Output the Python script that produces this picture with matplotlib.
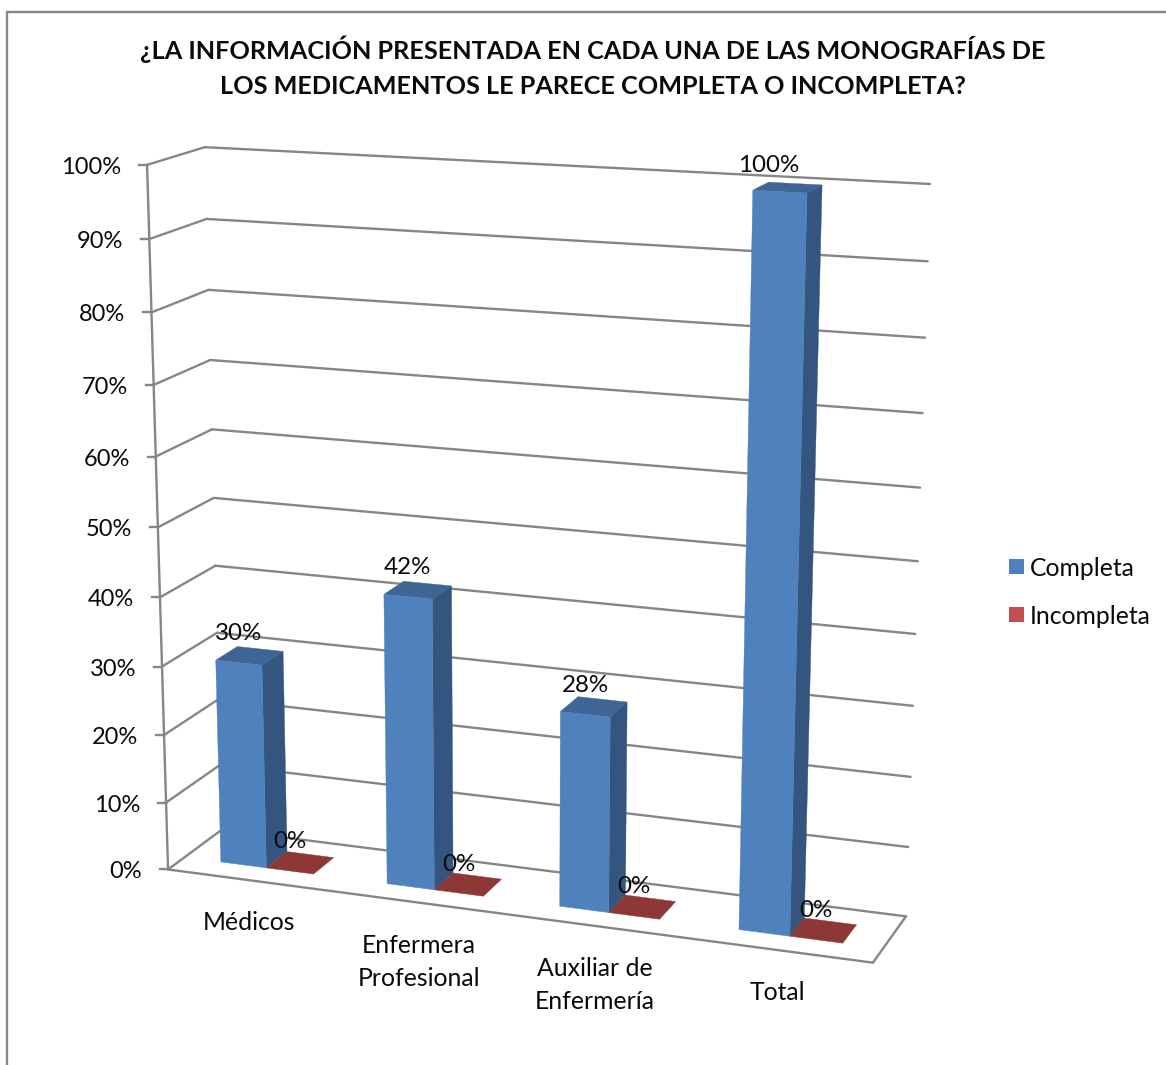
import numpy as np
import matplotlib
matplotlib.use("Agg")
import matplotlib.pyplot as plt
from matplotlib.patches import Polygon, Rectangle

# ---- data ----
categories = ["Médicos", "Enfermera\nProfesional", "Auxiliar de\nEnfermería", "Total"]
completa = [30, 42, 28, 100]
incompleta = [0, 0, 0, 0]
series_names = ["Completa", "Incompleta"]
y_ticks = [0, 10, 20, 30, 40, 50, 60, 70, 80, 90, 100]
title_lines = ["¿LA INFORMACIÓN PRESENTADA EN CADA UNA DE LAS MONOGRAFÍAS DE",
               "LOS MEDICAMENTOS LE PARECE COMPLETA O INCOMPLETA?"]

# ---- styles ----
W, H = 1166, 1065
GRID = "#868686"
LW = 1.7
BLUE, BLUE_SIDE, BLUE_TOP = "#4F81BD", "#34557F", "#3E6594"
RED, RED_TOP = "#C0504D", "#8E3835"
FONT = "Lato"
INK = "#0a0a0a"

# Box calibration: (category pos, depth, value) -> pixel position of the chart's corners
calib = [((0, 0, 0), (169, 869)), ((4, 0, 0), (873, 963)), ((4, 1, 0), (906, 916)),
         ((0, 1, 0), (221, 830)), ((0, 0, 100), (146, 165)), ((0, 1, 100), (206, 147)),
         ((4, 1, 100), (930, 184))]


def fit_projection(pairs):
    A = []
    for (x, y, z), (u, v) in pairs:
        z = z / 100.0
        A.append([x, y, z, 1, 0, 0, 0, 0, -u*x, -u*y, -u*z, -u])
        A.append([0, 0, 0, 0, x, y, z, 1, -v*x, -v*y, -v*z, -v])
    _, _, vt = np.linalg.svd(np.array(A, float))
    return vt[-1].reshape(3, 4)


P = fit_projection(calib)


def proj(x, y, z):
    h = P @ np.array([x, y, z / 100.0, 1.0])
    return h[0] / h[2], h[1] / h[2]


def poly(ax, pts, color, zorder):
    ax.add_patch(Polygon([proj(*p) for p in pts], closed=True, facecolor=color,
                         edgecolor=color, lw=0.3, zorder=zorder))


def line(ax, a, b, zorder=1):
    pa, pb = proj(*a), proj(*b)
    ax.plot([pa[0], pb[0]], [pa[1], pb[1]], color=GRID, lw=LW, zorder=zorder,
            solid_capstyle="round")


fig = plt.figure(figsize=(W / 100, H / 100), dpi=100)
ax = fig.add_axes([0, 0, 1, 1])
ax.set_xlim(0, W)
ax.set_ylim(H, 0)
ax.axis("off")

# outer frame
ax.plot([7, 7, W], [H, 12, 12], color=GRID, lw=LW, solid_joinstyle="miter")

# title
for txt, yy in zip(title_lines, (49.5, 86.5)):
    ax.text(592.5, yy, txt, ha="center", va="center", fontsize=18.2, fontweight="bold",
            family=FONT, color=INK)

ncat = len(categories)
# walls and axis
for t in y_ticks:
    line(ax, (0, 0, t), (0, 1, t))
    line(ax, (0, 1, t), (ncat, 1, t))
    u, v = proj(0, 0, t)
    ax.plot([u - 8, u], [v, v], color=GRID, lw=LW, zorder=1)
    ax.text(u - 26, v + 2.5, f"{t}%", ha="right", va="center", fontsize=17, family=FONT,
            color=INK)
line(ax, (0, 0, 0), (0, 0, 100))
# floor
line(ax, (0, 0, 0), (ncat, 0, 0))
line(ax, (ncat, 0, 0), (ncat, 1, 0))

# bars
a, w, w2, d0, d1 = 0.223, 0.277, 0.285, 0.30, 0.70
for i, (vb, vr) in enumerate(zip(completa, incompleta)):
    x0, x1, x2 = i + a, i + a + w, i + a + w + w2
    zb = 3 + i * 0.1
    poly(ax, [(x1, d0, 0), (x1, d1, 0), (x1, d1, vb), (x1, d0, vb)], BLUE_SIDE, zb)
    poly(ax, [(x0, d0, vb), (x1, d0, vb), (x1, d1, vb), (x0, d1, vb)], BLUE_TOP, zb)
    poly(ax, [(x0, d0, 0), (x1, d0, 0), (x1, d0, vb), (x0, d0, vb)], BLUE, zb + 0.01)
    poly(ax, [(x1, d0, vr), (x2, d0, vr), (x2, d1, vr), (x1, d1, vr)], RED_TOP, zb + 0.01)
    for xc, val in (((x0 + x1) / 2, vb), ((x1 + x2) / 2, vr)):
        u, v = proj(xc, d0, val)
        lean = (val / 100) ** 3
        ax.text(u - 11 * lean, v - 29 + 3 * lean, f"{val}%", ha="center", va="center",
                fontsize=17.4, family=FONT, color=INK, zorder=6)
    u, v = proj(i + 0.5, 0, 0)
    ax.text(u - 1, v + 31, categories[i], ha="center", va="top", fontsize=17.8, family=FONT,
            color=INK, linespacing=1.52)

# legend
for name, col, yy in zip(series_names, (BLUE, RED), (566, 614)):
    ax.add_patch(Rectangle((1009, yy - 7), 15, 15, facecolor=col, edgecolor="none"))
    ax.text(1030, yy + 2, name, ha="left", va="center", fontsize=17.8, family=FONT, color=INK)

fig.savefig("out.png", dpi=100)
